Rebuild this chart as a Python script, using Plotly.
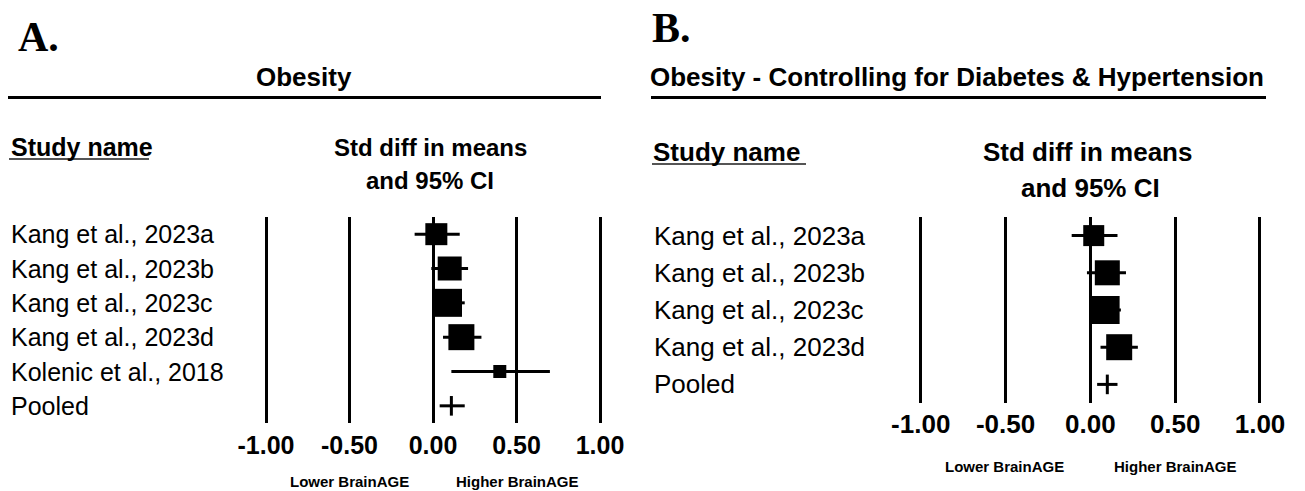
import plotly.graph_objects as go

W, H = 1305, 491

# ---------------- data ----------------
studies_a = ["Kang et al., 2023a", "Kang et al., 2023b", "Kang et al., 2023c",
             "Kang et al., 2023d", "Kolenic et al., 2018"]
est_a = [0.02, 0.10, 0.09, 0.17, 0.40]
lo_a = [-0.11, -0.01, 0.00, 0.06, 0.11]
hi_a = [0.16, 0.21, 0.19, 0.29, 0.70]
pooled_a = 0.11
pooled_lo_a = 0.04
pooled_hi_a = 0.19

studies_b = ["Kang et al., 2023a", "Kang et al., 2023b", "Kang et al., 2023c",
             "Kang et al., 2023d"]
est_b = [0.02, 0.10, 0.09, 0.17]
lo_b = [-0.11, -0.02, 0.00, 0.06]
hi_b = [0.16, 0.21, 0.18, 0.28]
pooled_b = 0.10
pooled_lo_b = 0.04
pooled_hi_b = 0.16

tick_vals = [-1.0, -0.5, 0.0, 0.5, 1.0]
tick_text = ["-1.00", "-0.50", "0.00", "0.50", "1.00"]

# ---------------- style ----------------
box_px_a = [22, 24, 28, 26, 13]
box_px_b = [21, 25, 28, 26]
FONT = "Liberation Sans, Arial, sans-serif"
SERIF = "Liberation Serif, Times New Roman, serif"


def px(x):
    return x / W


def py(y):
    return 1 - y / H


fig = go.Figure()


def add_panel(studies, est, lo, hi, p, plo, phi, sizes, xa, ya):
    ys = list(range(len(studies)))
    fig.add_trace(go.Scatter(
        x=est, y=ys, mode="markers", xaxis=xa, yaxis=ya,
        marker=dict(symbol="square", size=sizes, color="black", opacity=1,
                    line=dict(width=0)),
        error_x=dict(type="data", symmetric=False,
                     array=[h - e for h, e in zip(hi, est)],
                     arrayminus=[e - l for e, l in zip(est, lo)],
                     thickness=3, width=0, color="black"),
        cliponaxis=False, showlegend=False, hoverinfo="skip"))
    fig.add_trace(go.Scatter(
        x=[p], y=[len(studies)], mode="markers", xaxis=xa, yaxis=ya,
        marker=dict(symbol="line-ns", size=14, color="black", opacity=1,
                    line=dict(width=3, color="black")),
        error_x=dict(type="data", symmetric=False, array=[phi - p], arrayminus=[p - plo],
                     thickness=3, width=0, color="black"),
        cliponaxis=False, showlegend=False, hoverinfo="skip"))
    return len(studies) + 1


n_a = add_panel(studies_a, est_a, lo_a, hi_a, pooled_a, pooled_lo_a, pooled_hi_a,
                box_px_a, "x", "y")
n_b = add_panel(studies_b, est_b, lo_b, hi_b, pooled_b, pooled_lo_b, pooled_hi_b,
                box_px_b, "x2", "y2")

# axis geometry (pixels)
ax_a = dict(m1=266, p1=600, top=217, bot=423)
ax_b = dict(m1=920.7, p1=1260, top=217, bot=403)


def xdomain(g):
    s = (g["p1"] - g["m1"]) / 2.0
    return [px(g["m1"] - 0.1 * s), px(g["p1"] + 0.1 * s)]


common_x = dict(range=[-1.1, 1.1], tickvals=tick_vals, ticktext=tick_text,
                showgrid=True, gridcolor="black", gridwidth=3, zeroline=False,
                showline=False, ticks="", fixedrange=True, automargin=False)

fig.update_layout(
    template="none",
    width=W, height=H, autosize=False,
    margin=dict(l=0, r=0, t=0, b=0, pad=0, autoexpand=False),
    paper_bgcolor="white", plot_bgcolor="white",
    xaxis=dict(domain=xdomain(ax_a), anchor="y",
               tickfont=dict(family=FONT, size=25, color="black", weight="bold"),
               ticklabelstandoff=5, **common_x),
    yaxis=dict(domain=[py(ax_a["bot"]), py(ax_a["top"])], range=[n_a - 0.5, -0.5],
               visible=False, anchor="x", automargin=False),
    xaxis2=dict(domain=xdomain(ax_b), anchor="y2",
                tickfont=dict(family=FONT, size=26, color="black", weight="bold"),
                ticklabelstandoff=3, **common_x),
    yaxis2=dict(domain=[py(ax_b["bot"]), py(ax_b["top"])], range=[n_b - 0.5, -0.5],
                visible=False, anchor="x2", automargin=False),
)

ann = []


def text(x, y, s, size, bold=False, xanchor="left", family=FONT):
    ann.append(dict(x=px(x), y=py(y), xref="paper", yref="paper", text=s,
                    showarrow=False, xanchor=xanchor, yanchor="middle",
                    font=dict(family=family, size=size, color="black",
                              weight="bold" if bold else "normal")))


# Panel A texts
text(16, 37, "A.", 42, True, family=SERIF)
text(304, 77, "Obesity", 26, True, "center")
text(9, 147, "Study name", 25, True)
text(430, 147, "Std diff in means", 24, True, "center")
text(430, 181, "and 95% CI", 24, True, "center")
rows_a = studies_a + ["Pooled"]
for i, s in enumerate(rows_a):
    ann.append(dict(x=px(9), y=i, xref="paper", yref="y", text=s, showarrow=False,
                    xanchor="left", yanchor="middle",
                    font=dict(family=FONT, size=25, color="black")))
text(349, 481, "Lower BrainAGE", 15, True, "center")
text(517, 481, "Higher BrainAGE", 15, True, "center")

# Panel B texts
text(650, 28, "B.", 42, True, family=SERIF)
text(957, 77, "Obesity - Controlling for Diabetes &amp; Hypertension", 26, True, "center")
text(651, 152, "Study name", 26, True)
text(1087, 152, "Std diff in means", 26, True, "center")
text(1090, 188, "and 95% CI", 26, True, "center")
rows_b = studies_b + ["Pooled"]
for i, s in enumerate(rows_b):
    ann.append(dict(x=px(652), y=i, xref="paper", yref="y2", text=s, showarrow=False,
                    xanchor="left", yanchor="middle",
                    font=dict(family=FONT, size=26, color="black")))
text(1005, 466, "Lower BrainAGE", 15, True, "center")
text(1175, 466, "Higher BrainAGE", 15, True, "center")

fig.update_layout(annotations=ann)

shapes = [
    dict(type="line", xref="paper", yref="paper", x0=px(8), x1=px(601), y0=py(97.5), y1=py(97.5),
         line=dict(color="black", width=3)),
    dict(type="line", xref="paper", yref="paper", x0=px(651), x1=px(1266), y0=py(97.5), y1=py(97.5),
         line=dict(color="black", width=3)),
    dict(type="line", xref="paper", yref="paper", x0=px(9), x1=px(149), y0=py(159), y1=py(159),
         line=dict(color="#555555", width=2)),
    dict(type="line", xref="paper", yref="paper", x0=px(652), x1=px(806), y0=py(164), y1=py(164),
         line=dict(color="#555555", width=2)),
]
fig.update_layout(shapes=shapes)

fig.write_html("out.html")
